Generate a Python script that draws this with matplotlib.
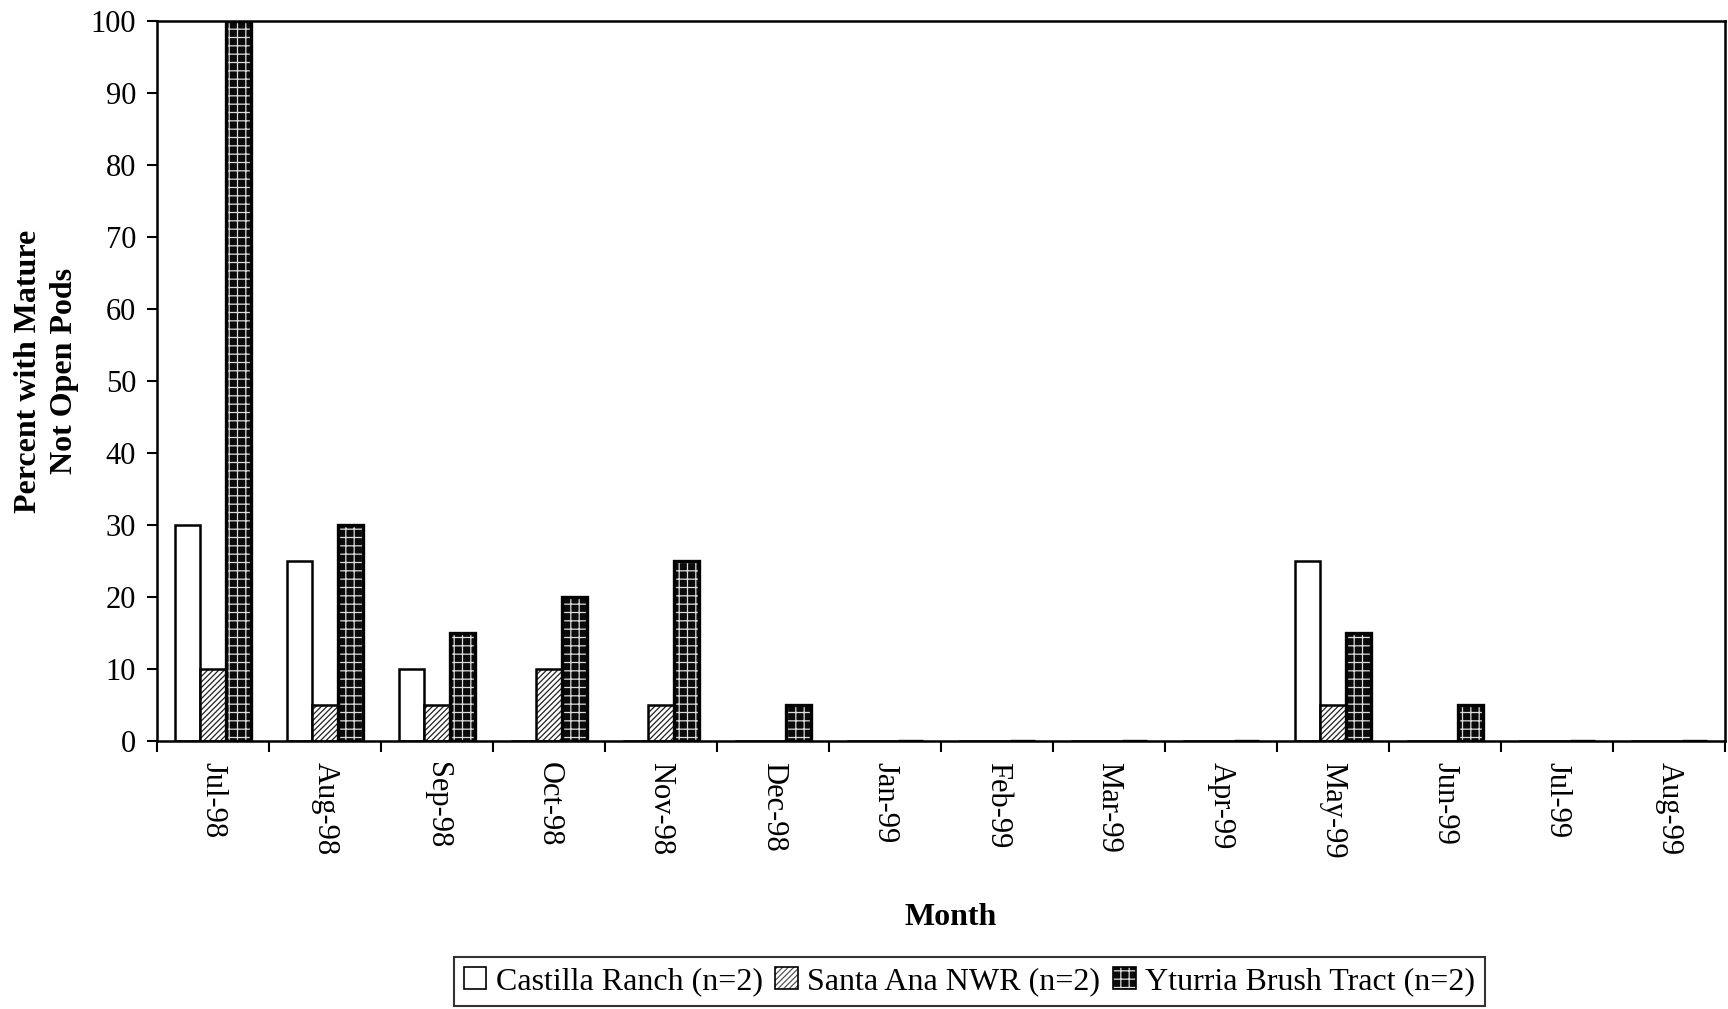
import numpy as np
import matplotlib
matplotlib.use("Agg")
import matplotlib.pyplot as plt
from matplotlib.patches import Patch
from matplotlib.legend_handler import HandlerTuple

months = ["Jul-98", "Aug-98", "Sep-98", "Oct-98", "Nov-98", "Dec-98", "Jan-99",
          "Feb-99", "Mar-99", "Apr-99", "May-99", "Jun-99", "Jul-99", "Aug-99"]
castilla = [30, 25, 10, 0, 0, 0, 0, 0, 0, 0, 25, 0, 0, 0]
santa_ana = [10, 5, 5, 10, 5, 0, 0, 0, 0, 0, 5, 0, 0, 0]
yturria = [100, 30, 15, 20, 25, 5, 0, 0, 0, 0, 15, 5, 0, 0]
series_names = ["Castilla Ranch (n=2)", "Santa Ana NWR (n=2)", "Yturria Brush Tract (n=2)"]

plt.rcParams["font.family"] = ["Liberation Serif", "DejaVu Serif"]
plt.rcParams["hatch.linewidth"] = 0.9

fig = plt.figure(figsize=(17.28, 10.09), dpi=100)
ax = fig.add_axes([0.0909, 0.2656, 0.9074, 0.7134])

x = np.arange(len(months))
w = 0.225

# Castilla: open bars
ax.bar(x - w, castilla, w, facecolor="white", edgecolor="black", linewidth=1.8)
# Santa Ana: diagonal hatching
ax.bar(x, santa_ana, w, facecolor="white", edgecolor="#222222", hatch="//////", linewidth=0)
ax.bar(x, santa_ana, w, fill=False, edgecolor="black", linewidth=1.8)
# Yturria: dark bars with light grid
ax.bar(x + w, yturria, w, facecolor="#0a0a0a", edgecolor="#dddddd", hatch="++", linewidth=0)
ax.bar(x + w, yturria, w, fill=False, edgecolor="black", linewidth=2.4)

ax.set_xlim(-0.5, len(months) - 0.5)
ax.set_ylim(0, 100)
ax.set_yticks(np.arange(0, 101, 10))
ax.tick_params(axis="y", labelsize=22, length=7, width=1.5, direction="out", pad=8)

ax.set_xticks(x)
ax.set_xticklabels(months, rotation=-90, fontsize=22, va="top", ha="center")
ax.tick_params(axis="x", which="major", length=0, pad=15)
ax.set_xticks(np.arange(-0.5, len(months), 1), minor=True)
ax.tick_params(axis="x", which="minor", length=8, width=1.5, direction="out")

for side in ax.spines.values():
    side.set_linewidth(1.8)
    side.set_color("black")

fig.text(0.027, 0.632, "Percent with Mature\nNot Open Pods", rotation=90,
         ha="center", va="center", fontsize=23, fontweight="bold", linespacing=1.3)
fig.text(0.5503, 0.0902, "Month", ha="center", va="center", fontsize=23, fontweight="bold")

handles = [
    Patch(facecolor="white", edgecolor="black", linewidth=1.2),
    (Patch(facecolor="white", edgecolor="#555555", hatch="//////", linewidth=0),
     Patch(fill=False, edgecolor="black", linewidth=1.2)),
    (Patch(facecolor="#0a0a0a", edgecolor="#dddddd", hatch="++", linewidth=0),
     Patch(fill=False, edgecolor="black", linewidth=1.2)),
]
leg = fig.legend(handles, series_names, loc="center", bbox_to_anchor=(0.561, 0.027),
                 ncol=3, fontsize=23, frameon=True, fancybox=False, edgecolor="black",
                 handlelength=0.7, handleheight=0.7, handletextpad=0.3, columnspacing=0.4,
                 borderpad=0.3, handler_map={tuple: HandlerTuple(ndivide=1, pad=0)})
leg.get_frame().set_linewidth(1.5)

fig.savefig("out.png", dpi=100)
